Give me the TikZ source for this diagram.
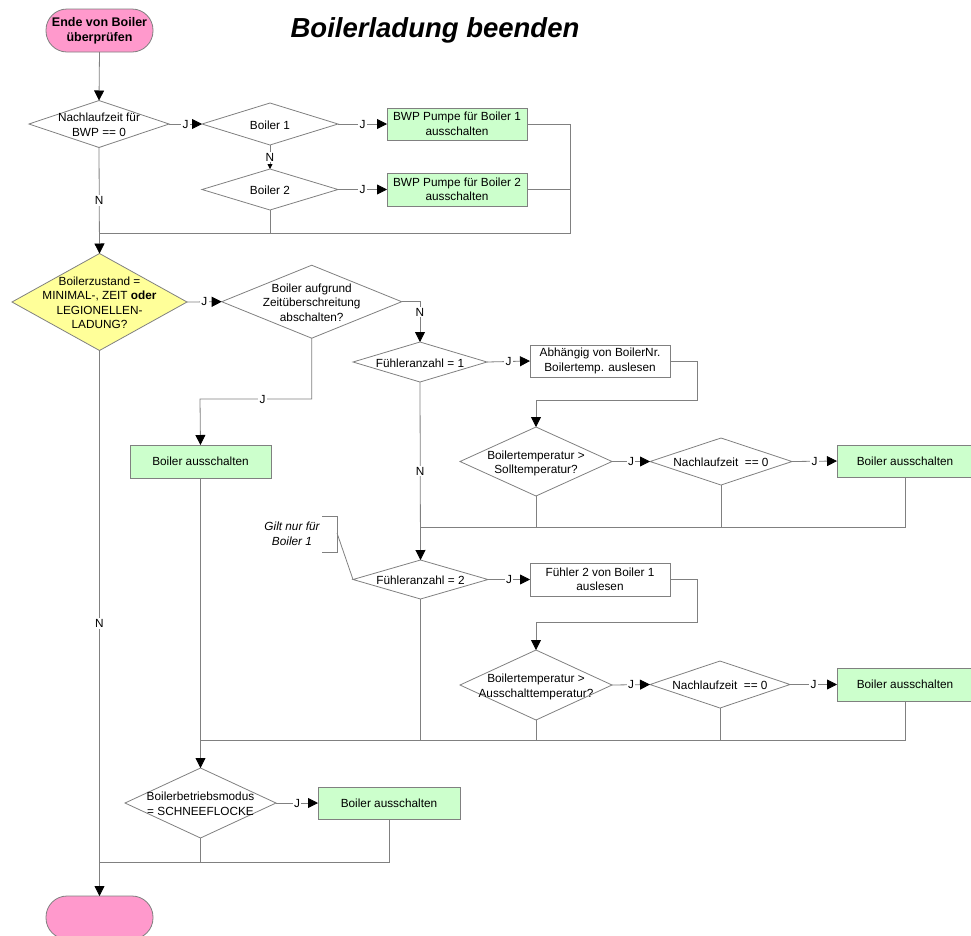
\documentclass[tikz,border=0pt]{standalone}
\usepackage{fontspec}
\setmainfont{Liberation Sans}
\usetikzlibrary{shapes.geometric,arrows.meta}
\definecolor{lg}{HTML}{808080}
\definecolor{pinkf}{HTML}{FF99CC}
\definecolor{yelf}{HTML}{FFFF99}
\definecolor{grnf}{HTML}{CCFFCC}
\newcommand\ztxt[1]{\makebox[0pt]{\raisebox{0pt}[0pt][0pt]{\raisebox{-0.5\height}{\begin{tabular}[b]{@{}c@{}}#1\end{tabular}}}}}
\tikzset{
  base/.style={font=\fontsize{11.8}{14.5}\selectfont, text=black},
  dia/.style={base, diamond, draw=lg, line width=0.8pt, fill=white, inner sep=0pt, outer sep=0pt},
  pbox/.style={base, rectangle, draw=lg, line width=0.8pt, fill=white, inner sep=0pt, outer sep=0pt, align=center},
  gbox/.style={pbox, fill=grnf},
  term/.style={base, font=\fontsize{12.5}{15}\selectfont\bfseries, rectangle, rounded corners=21pt, draw=lg, line width=0.8pt, fill=pinkf, inner sep=0pt, outer sep=0pt, align=center, minimum width=107pt, minimum height=43pt},
  lab/.style={base, fill=white, inner sep=1.2pt},
  ln/.style={draw=lg, line width=0.8pt},
  flow/.style={ln, -{Triangle[length=10pt,width=10pt,color=black]}},
  sflow/.style={ln, -{Triangle[length=5pt,width=5pt,color=black]}},
}
\begin{document}
\begin{tikzpicture}[x=1pt,y=-1pt]
\useasboundingbox (0,0) rectangle (971,935);

% title
\node[font=\fontsize{27.5}{30}\selectfont\bfseries\itshape] (title) at (435,30) {Boilerladung beenden};

% terminals
\node[term] (start) at (99.5,30.5) {Ende von Boiler\\überprüfen};
\node[term] (end) at (99.5,917.5) {};

% top part
\node[dia, minimum width=140pt, minimum height=47pt] (d1) at (99,124) {\ztxt{Nachlaufzeit für\\BWP == 0}};
\node[dia, minimum width=136pt, minimum height=42pt] (b1) at (270,124) {\ztxt{Boiler 1}};
\node[dia, minimum width=136pt, minimum height=41pt] (b2) at (270,189.5) {\ztxt{Boiler 2}};
\node[gbox, minimum width=140pt, minimum height=32pt] (bwp1) at (457,124) {BWP Pumpe für Boiler 1\\ausschalten};
\node[gbox, minimum width=140pt, minimum height=33pt] (bwp2) at (457,189.5) {BWP Pumpe für Boiler 2\\ausschalten};
\coordinate (j1) at (570,233);

% middle
\node[dia, fill=yelf, minimum width=175pt, minimum height=97pt] (yel) at (99.5,302) {\ztxt{Boilerzustand =\\MINIMAL-, ZEIT \textbf{oder}\\LEGIONELLEN-\\LADUNG?}};
\node[dia, minimum width=180pt, minimum height=73pt] (za) at (311.7,301.7) {\ztxt{Boiler aufgrund\\Zeitüberschreitung\\abschalten?}};
\coordinate (k1) at (200,399);
\node[gbox, minimum width=141pt, minimum height=33pt] (ba1) at (200.5,461.5) {Boiler ausschalten};

\node[dia, minimum width=134pt, minimum height=40pt] (fa1) at (420,362) {\ztxt{Fühleranzahl = 1}};
\node[pbox, minimum width=140pt, minimum height=32pt] (ab1) at (600,361) {Abhängig von BoilerNr.\\Boilertemp. auslesen};
\coordinate (r1) at (697,400);
\node[dia, minimum width=152pt, minimum height=69pt] (bt1) at (536,461.5) {\ztxt{Boilertemperatur >\\Solltemperatur?}};
\node[dia, minimum width=142pt, minimum height=47pt] (nl1) at (721,461.5) {\ztxt{Nachlaufzeit\ \ == 0}};
\node[gbox, minimum width=136pt, minimum height=32pt] (ba2) at (905,461) {Boiler ausschalten};
\coordinate (m1) at (420,527);

\node[dia, minimum width=135pt, minimum height=39pt] (fa2) at (420.5,579.5) {\ztxt{Fühleranzahl = 2}};
\node[base, font=\fontsize{11.8}{14.5}\selectfont\itshape, align=center, inner sep=0pt] (note) at (292,534) {Gilt nur für\\Boiler 1};
\coordinate (br) at (337,533);
\node[pbox, minimum width=140pt, minimum height=33pt] (f2) at (600,579.5) {Fühler 2 von Boiler 1\\auslesen};
\coordinate (r2) at (697,622);
\node[dia, minimum width=152pt, minimum height=70pt] (bt2) at (536,685) {\ztxt{Boilertemperatur >\\Ausschalttemperatur?}};
\node[dia, minimum width=140pt, minimum height=47pt] (nl2) at (720,684.5) {\ztxt{Nachlaufzeit\ \ == 0}};
\node[gbox, minimum width=136pt, minimum height=33pt] (ba3) at (905,684.5) {Boiler ausschalten};
\coordinate (m2) at (200,740);

% bottom
\node[dia, minimum width=151pt, minimum height=70pt] (bm) at (200.5,803) {\ztxt{Boilerbetriebsmodus\\= SCHNEEFLOCKE}};
\node[gbox, minimum width=142pt, minimum height=32pt] (ba4) at (389,803) {Boiler ausschalten};
\coordinate (m3) at (99.5,862);

% connectors top
\draw[flow] (start.south) -- (d1.north);
\draw[flow] (d1.east) -- node[lab]{J} (b1.west);
\draw[sflow] (b1.south) -- node[lab, inner sep=0.5pt]{N} (b2.north);
\draw[flow] (b1.east) -- node[lab]{J} (bwp1.west);
\draw[flow] (b2.east) -- node[lab]{J} (bwp2.west);
\draw[ln] (bwp1.east) -| (j1) -- (d1.south |- j1);
\draw[ln] (bwp2.east) -- (bwp2.east -| j1);
\draw[ln] (b2.south) -- (b2.south |- j1);
\draw[flow] (d1.south) -- node[lab]{N} (yel.north);

% connectors middle
\draw[flow] (yel.east) -- node[lab]{J} (za.west);
\draw[flow] (za.east) -| node[lab, pos=0.63]{N} (fa1.north);
\draw[flow] (za.south) |- node[lab, pos=0.72]{J} (k1) -- (ba1.north);
\draw[flow] (fa1.east) -- node[lab]{J} (ab1.west);
\draw[flow] (ab1.east) -| (r1) -| (bt1.north);
\draw[flow] (bt1.east) -- node[lab]{J} (nl1.west);
\draw[flow] (nl1.east) -- node[lab]{J} (ba2.west);
\draw[ln] (ba2.south) |- (m1);
\draw[ln] (nl1.south) -- (nl1.south |- m1);
\draw[ln] (bt1.south) -- (bt1.south |- m1);
\draw[flow] (fa1.south) -- node[lab]{N} (fa2.north);

\draw[ln] (322,516) -- (337,516) -- (337,552) -- (322,552);
\draw[ln] (br) -- (fa2.west);
\draw[flow] (fa2.east) -- node[lab]{J} (f2.west);
\draw[flow] (f2.east) -| (r2) -| (bt2.north);
\draw[flow] (bt2.east) -- node[lab]{J} (nl2.west);
\draw[flow] (nl2.east) -- node[lab]{J} (ba3.west);
\draw[ln] (ba3.south) |- (m2);
\draw[ln] (nl2.south) -- (nl2.south |- m2);
\draw[ln] (bt2.south) -- (bt2.south |- m2);
\draw[ln] (fa2.south) -- (fa2.south |- m2);

% connectors bottom
\draw[flow] (ba1.south) -- (bm.north);
\draw[flow] (bm.east) -- node[lab]{J} (ba4.west);
\draw[ln] (ba4.south) |- (m3);
\draw[ln] (bm.south) -- (bm.south |- m3);
\draw[flow] (yel.south) -- node[lab]{N} (end.north);
\end{tikzpicture}
\end{document}
